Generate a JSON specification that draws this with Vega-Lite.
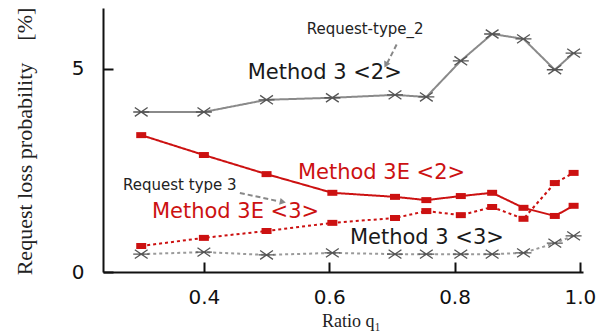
{
  "$schema": "https://vega.github.io/schema/vega-lite/v6.json",
  "width": 480,
  "height": 264,
  "autosize": {"type": "none"},
  "padding": {"left": 103, "top": 8, "right": 30, "bottom": 60},
  "background": "white",
  "config": {
    "view": {"stroke": null},
    "axis": {
      "grid": false,
      "domainColor": "#111",
      "domainWidth": 2,
      "tickColor": "#111",
      "tickWidth": 2,
      "tickSize": -10,
      "labelFont": "DejaVu Sans",
      "labelFontSize": 20,
      "labelColor": "#111",
      "titleFont": "Liberation Serif",
      "titleFontWeight": "normal",
      "titleColor": "#222"
    }
  },
  "datasets": {
    "series": [
      {"x": 0.3, "y": 3.94, "series": "Method 3 <2>"},
      {"x": 0.4, "y": 3.94, "series": "Method 3 <2>"},
      {"x": 0.5, "y": 4.24, "series": "Method 3 <2>"},
      {"x": 0.605, "y": 4.29, "series": "Method 3 <2>"},
      {"x": 0.705, "y": 4.36, "series": "Method 3 <2>"},
      {"x": 0.755, "y": 4.31, "series": "Method 3 <2>"},
      {"x": 0.81, "y": 5.2, "series": "Method 3 <2>"},
      {"x": 0.86, "y": 5.86, "series": "Method 3 <2>"},
      {"x": 0.91, "y": 5.74, "series": "Method 3 <2>"},
      {"x": 0.96, "y": 4.98, "series": "Method 3 <2>"},
      {"x": 0.99, "y": 5.39, "series": "Method 3 <2>"},
      {"x": 0.3, "y": 3.37, "series": "Method 3E <2>"},
      {"x": 0.4, "y": 2.88, "series": "Method 3E <2>"},
      {"x": 0.5, "y": 2.41, "series": "Method 3E <2>"},
      {"x": 0.605, "y": 1.95, "series": "Method 3E <2>"},
      {"x": 0.705, "y": 1.85, "series": "Method 3E <2>"},
      {"x": 0.755, "y": 1.77, "series": "Method 3E <2>"},
      {"x": 0.81, "y": 1.87, "series": "Method 3E <2>"},
      {"x": 0.86, "y": 1.95, "series": "Method 3E <2>"},
      {"x": 0.91, "y": 1.58, "series": "Method 3E <2>"},
      {"x": 0.96, "y": 1.38, "series": "Method 3E <2>"},
      {"x": 0.99, "y": 1.63, "series": "Method 3E <2>"},
      {"x": 0.3, "y": 0.64, "series": "Method 3E <3>"},
      {"x": 0.4, "y": 0.84, "series": "Method 3E <3>"},
      {"x": 0.5, "y": 1.01, "series": "Method 3E <3>"},
      {"x": 0.605, "y": 1.21, "series": "Method 3E <3>"},
      {"x": 0.705, "y": 1.33, "series": "Method 3E <3>"},
      {"x": 0.755, "y": 1.5, "series": "Method 3E <3>"},
      {"x": 0.81, "y": 1.4, "series": "Method 3E <3>"},
      {"x": 0.86, "y": 1.6, "series": "Method 3E <3>"},
      {"x": 0.91, "y": 1.31, "series": "Method 3E <3>"},
      {"x": 0.96, "y": 2.19, "series": "Method 3E <3>"},
      {"x": 0.99, "y": 2.44, "series": "Method 3E <3>"},
      {"x": 0.3, "y": 0.44, "series": "Method 3 <3>"},
      {"x": 0.4, "y": 0.49, "series": "Method 3 <3>"},
      {"x": 0.5, "y": 0.42, "series": "Method 3 <3>"},
      {"x": 0.605, "y": 0.47, "series": "Method 3 <3>"},
      {"x": 0.705, "y": 0.44, "series": "Method 3 <3>"},
      {"x": 0.755, "y": 0.44, "series": "Method 3 <3>"},
      {"x": 0.81, "y": 0.44, "series": "Method 3 <3>"},
      {"x": 0.86, "y": 0.44, "series": "Method 3 <3>"},
      {"x": 0.91, "y": 0.47, "series": "Method 3 <3>"},
      {"x": 0.96, "y": 0.71, "series": "Method 3 <3>"},
      {"x": 0.99, "y": 0.89, "series": "Method 3 <3>"}
    ],
    "labels": [
      {"x": 0.47, "y": 4.9, "label": "Method 3 <2>", "group": "black"},
      {"x": 0.55, "y": 2.44, "label": "Method 3E <2>", "group": "red"},
      {"x": 0.317, "y": 1.48, "label": "Method 3E <3>", "group": "red"},
      {"x": 0.633, "y": 0.84, "label": "Method 3 <3>", "group": "black"}
    ],
    "notes": [
      {"x": 0.564, "y": 5.985, "label": "Request-type_2"},
      {"x": 0.271, "y": 2.14, "label": "Request type 3"}
    ],
    "arrows": [
      {"x": 0.7096, "y": 5.665, "arrow": "a1"},
      {"x": 0.6925, "y": 5.14, "arrow": "a1"},
      {"x": 0.4574, "y": 1.946, "arrow": "a2"},
      {"x": 0.52, "y": 1.74, "arrow": "a2"}
    ],
    "head1": [{"x": 0.6904, "y": 5.099}],
    "head2": [{"x": 0.526, "y": 1.724}]
  },
  "layer": [
    {
      "data": {"name": "series"},
      "mark": {"type": "line", "strokeWidth": 2},
      "encoding": {
        "x": {
          "field": "x", "type": "quantitative",
          "scale": {"domain": [0.239, 1.005], "nice": false, "zero": false},
          "axis": {
            "values": [0.4, 0.6, 0.8, 1.0], "format": ".1f",
            "title": "Ratio q₁", "titleFontSize": 18,
            "labelPadding": 25, "titleBaseline": "alphabetic",
            "titleY": 54, "titleX": 248
          }
        },
        "y": {
          "field": "y", "type": "quantitative",
          "scale": {"domain": [0, 6.5], "nice": false},
          "axis": {
            "values": [0, 5], "format": "d",
            "title": "Request loss probability\u00a0\u00a0\u00a0 [%]", "titleFontSize": 22,
            "labelPadding": 29, "titleAngle": -90, "titleBaseline": "alphabetic",
            "titleX": -72, "titleY": 133, "titleAlign": "center"
          }
        },
        "color": {
          "field": "series", "type": "nominal", "legend": null,
          "scale": {
            "domain": ["Method 3 <2>", "Method 3E <2>", "Method 3E <3>", "Method 3 <3>"],
            "range": ["#8a8a8a", "#cc1111", "#cc1111", "#9a9a9a"]
          }
        },
        "strokeDash": {
          "field": "series", "type": "nominal", "legend": null,
          "scale": {
            "domain": ["Method 3 <2>", "Method 3E <2>", "Method 3E <3>", "Method 3 <3>"],
            "range": [[1, 0], [1, 0], [3, 3], [3, 3]]
          }
        }
      }
    },
    {
      "data": {"name": "series"},
      "transform": [{"filter": "datum.series === 'Method 3 <2>' || datum.series === 'Method 3 <3>'"}],
      "mark": {
        "type": "point", "filled": false, "opacity": 1,
        "shape": "M-1,0L1,0M-0.8,-0.55L0.8,0.55M-0.8,0.55L0.8,-0.55",
        "size": 256, "stroke": "#555", "strokeWidth": 1.3
      },
      "encoding": {
        "x": {"field": "x", "type": "quantitative"},
        "y": {"field": "y", "type": "quantitative"}
      }
    },
    {
      "data": {"name": "series"},
      "transform": [{"filter": "datum.series === 'Method 3E <2>' || datum.series === 'Method 3E <3>'"}],
      "mark": {
        "type": "point", "filled": true, "opacity": 1,
        "shape": "M-1,-0.6L1,-0.6L1,0.6L-1,0.6Z",
        "size": 100, "color": "#cc1111"
      },
      "encoding": {
        "x": {"field": "x", "type": "quantitative"},
        "y": {"field": "y", "type": "quantitative"}
      }
    },
    {
      "data": {"name": "arrows"},
      "mark": {"type": "line", "strokeWidth": 2, "strokeDash": [5, 3], "color": "#888"},
      "encoding": {
        "x": {"field": "x", "type": "quantitative"},
        "y": {"field": "y", "type": "quantitative"},
        "detail": {"field": "arrow"}
      }
    },
    {
      "data": {"name": "head1"},
      "mark": {"type": "point", "shape": "triangle-up", "filled": true, "opacity": 1, "size": 50, "color": "#888", "angle": 208},
      "encoding": {
        "x": {"field": "x", "type": "quantitative"},
        "y": {"field": "y", "type": "quantitative"}
      }
    },
    {
      "data": {"name": "head2"},
      "mark": {"type": "point", "shape": "triangle-up", "filled": true, "opacity": 1, "size": 50, "color": "#888", "angle": 102},
      "encoding": {
        "x": {"field": "x", "type": "quantitative"},
        "y": {"field": "y", "type": "quantitative"}
      }
    },
    {
      "data": {"name": "labels"},
      "transform": [{"filter": "datum.group === 'black'"}],
      "mark": {"type": "text", "align": "left", "baseline": "middle", "font": "DejaVu Sans", "fontSize": 21, "color": "#1a1a1a"},
      "encoding": {
        "x": {"field": "x", "type": "quantitative"},
        "y": {"field": "y", "type": "quantitative"},
        "text": {"field": "label"}
      }
    },
    {
      "data": {"name": "labels"},
      "transform": [{"filter": "datum.group === 'red'"}],
      "mark": {"type": "text", "align": "left", "baseline": "middle", "font": "DejaVu Sans", "fontSize": 21, "color": "#cc1111"},
      "encoding": {
        "x": {"field": "x", "type": "quantitative"},
        "y": {"field": "y", "type": "quantitative"},
        "text": {"field": "label"}
      }
    },
    {
      "data": {"name": "notes"},
      "mark": {"type": "text", "align": "left", "baseline": "middle", "font": "DejaVu Sans", "fontSize": 15, "color": "#222"},
      "encoding": {
        "x": {"field": "x", "type": "quantitative"},
        "y": {"field": "y", "type": "quantitative"},
        "text": {"field": "label"}
      }
    }
  ]
}
